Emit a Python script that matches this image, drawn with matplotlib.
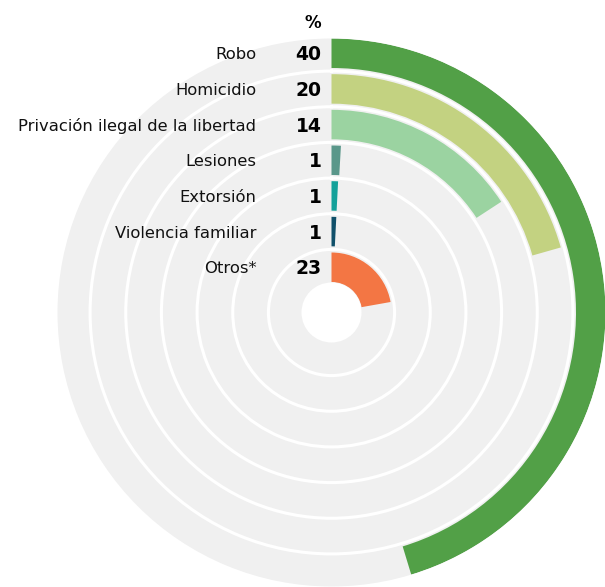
import numpy as np
import matplotlib.pyplot as plt

plt.rcParams['font.family'] = ['DejaVu Sans']

categorias = ["Robo", "Homicidio", "Privación ilegal de la libertad", "Lesiones",
              "Extorsión", "Violencia familiar", "Otros*"]
porcentajes = [40, 20, 14, 1, 1, 1, 23]
# largo de cada arco tal como se ve en la grafica original (% de la vuelta completa)
arco = [45.3, 20.6, 15.8, 0.9, 0.8, 0.8, 22.2]
colores = ["#52a047", "#c3d281", "#9bd3a1", "#5a978a", "#14a19a", "#10506a", "#f37644"]

W, H, DPI = 605, 587, 100
cx, cy, R = 331.5, 312.5, 274   # centro y radio en pixeles
hueco = 30
paso = (R - 60) / 6
grosor = 29.5

fig = plt.figure(figsize=(W / DPI, H / DPI), dpi=DPI)
ax = fig.add_axes([(cx - R) / W, (H - cy - R) / H, 2 * R / W, 2 * R / H], projection='polar')
ax.set_theta_zero_location('N')
ax.set_theta_direction(-1)
ax.set_ylim(0, R)
ax.set_facecolor('#f0f0f0')
ax.spines['polar'].set_visible(False)

n = len(categorias)
r_ext = np.array([R - i * paso for i in range(n)])
theta = np.deg2rad(np.array(arco) * 3.6)
ax.bar(0, grosor, width=theta, bottom=r_ext - grosor, align='edge',
       color=colores, linewidth=0, zorder=2)

# hueco blanco del centro
ax.bar(0, hueco, width=2 * np.pi, bottom=0, align='edge', color='white', linewidth=0, zorder=3)

# lineas blancas entre anillos
seps = [r_ext[i] - grosor - (paso - grosor) / 2 for i in range(n - 1)]
ax.set_yticks(seps)
ax.set_yticklabels([])
ax.set_xticks([])
ax.tick_params(length=0)
ax.yaxis.grid(True, color='white', linewidth=2.2)
ax.xaxis.grid(False)

for i in range(n):
    rc = r_ext[i] - grosor / 2
    ax.annotate(categorias[i], xy=(0, rc), xytext=(-75, -1.5), textcoords='offset pixels',
                ha='right', va='center', fontsize=11.8, color='#111111', zorder=5)
    ax.annotate(str(porcentajes[i]), xy=(0, rc), xytext=(-10, -1.5), textcoords='offset pixels',
                ha='right', va='center', fontsize=13.5, fontweight='bold', color='black', zorder=5)

ax.annotate('%', xy=(0, r_ext[0] - grosor / 2), xytext=(-10, 30), textcoords='offset pixels',
            ha='right', va='center', fontsize=12, fontweight='bold', color='black')

fig.savefig('out.png', dpi=DPI)
